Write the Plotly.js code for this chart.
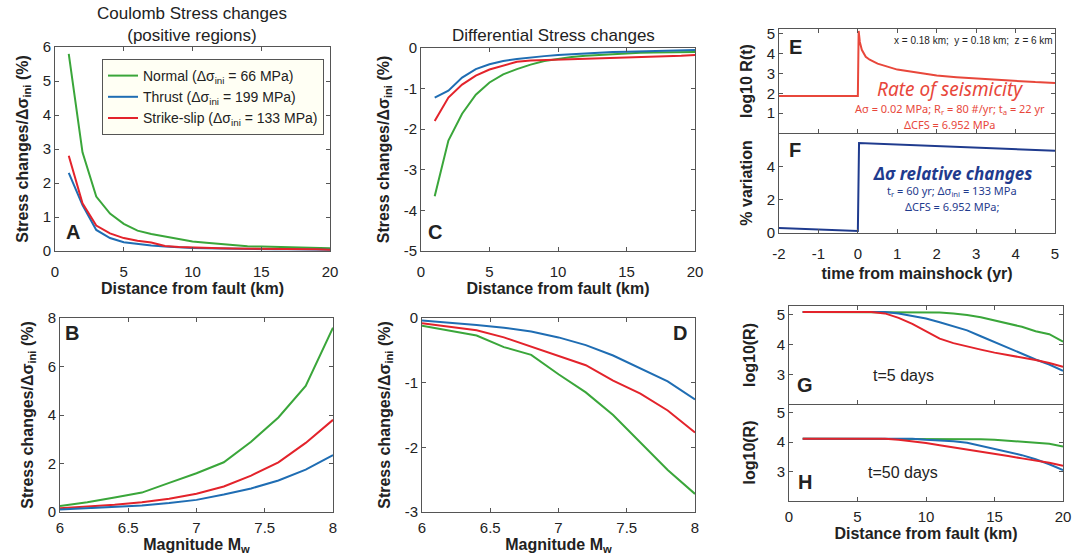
<!DOCTYPE html>
<html><head><meta charset="utf-8">
<script src="https://cdn.plot.ly/plotly-3.0.1.min.js"></script>
<style>body{margin:0;background:#fff}#c{width:1072px;height:560px}</style>
</head><body><div id="c"></div>
<script>
// ---- Panel A: Coulomb stress changes vs distance ----
const distKm = [1,2,3,4,5,6,7,8,9,10,11,12,13,14,15,16,17,18,19,20];
const A_normal = [5.8,2.9,1.6,1.1,0.8,0.6,0.5,0.42,0.34,0.28,0.24,0.2,0.17,0.14,0.13,0.12,0.11,0.1,0.09,0.08];
const A_thrust = [2.3,1.35,0.62,0.38,0.26,0.2,0.16,0.13,0.1,0.09,0.08,0.07,0.06,0.06,0.05,0.05,0.05,0.04,0.04,0.04];
const A_strike = [2.8,1.4,0.75,0.52,0.38,0.3,0.25,0.15,0.12,0.1,0.09,0.08,0.07,0.07,0.06,0.06,0.05,0.05,0.05,0.04];
// ---- Panel C: Differential stress changes vs distance ----
const C_normal = [-3.65,-2.28,-1.62,-1.15,-0.85,-0.65,-0.52,-0.41,-0.32,-0.27,-0.22,-0.19,-0.17,-0.15,-0.13,-0.12,-0.11,-0.11,-0.1,-0.1];
const C_thrust = [-1.22,-1.05,-0.73,-0.52,-0.4,-0.32,-0.27,-0.23,-0.2,-0.17,-0.15,-0.13,-0.11,-0.1,-0.09,-0.08,-0.07,-0.07,-0.06,-0.05];
const C_strike = [-1.8,-1.22,-0.9,-0.68,-0.53,-0.43,-0.34,-0.31,-0.3,-0.28,-0.27,-0.26,-0.25,-0.24,-0.23,-0.22,-0.21,-0.2,-0.19,-0.17];
// ---- Panels B, D: vs magnitude ----
const magMw = [6.0,6.2,6.4,6.6,6.8,7.0,7.2,7.4,7.6,7.8,8.0];
const B_normal = [0.25,0.4,0.6,0.8,1.2,1.6,2.05,2.9,3.9,5.2,7.6];
const B_thrust = [0.1,0.15,0.2,0.27,0.37,0.5,0.72,0.97,1.3,1.75,2.35];
const B_strike = [0.15,0.22,0.3,0.4,0.55,0.75,1.05,1.5,2.05,2.85,3.8];
const D_normal = [-0.12,-0.2,-0.27,-0.45,-0.57,-0.87,-1.15,-1.5,-1.93,-2.35,-2.72];
const D_thrust = [-0.04,-0.07,-0.11,-0.15,-0.21,-0.3,-0.42,-0.58,-0.78,-0.98,-1.26];
const D_strike = [-0.08,-0.13,-0.19,-0.3,-0.44,-0.58,-0.73,-0.97,-1.17,-1.43,-1.77];
// ---- Panel E: rate of seismicity ----
const E_time = [-2,0,0.02,0.05,0.1,0.2,0.3,0.5,0.75,1,1.5,2,2.5,3,3.5,4,4.5,5];
const E_log10R = [1.87,1.87,5.15,4.6,4.2,3.85,3.7,3.5,3.35,3.2,3.05,2.9,2.82,2.75,2.68,2.62,2.57,2.53];
// ---- Panel F: relative changes ----
const F_time = [-2,0,0.03,5];
const F_pct = [0.3,0.12,5.45,4.97];
// ---- Panels G, H: log10(R) vs distance ----
const G_normal = [5.1,5.1,5.1,5.1,5.1,5.1,5.1,5.1,5.1,5.1,5.08,5.05,5.0,4.92,4.82,4.7,4.6,4.45,4.35,4.1];
const G_thrust = [5.1,5.1,5.1,5.1,5.1,5.1,5.1,5.05,4.97,4.88,4.75,4.62,4.48,4.28,4.08,3.88,3.7,3.5,3.33,3.12];
const G_strike = [5.1,5.1,5.1,5.1,5.1,5.1,5.05,4.9,4.7,4.45,4.2,4.05,3.93,3.83,3.73,3.65,3.57,3.48,3.38,3.25];
const H_normal = [4.12,4.12,4.12,4.12,4.12,4.12,4.12,4.12,4.12,4.12,4.12,4.12,4.12,4.1,4.08,4.05,4.03,4.0,3.95,3.85];
const H_thrust = [4.12,4.12,4.12,4.12,4.12,4.12,4.12,4.12,4.12,4.08,4.06,4.03,3.98,3.88,3.78,3.67,3.56,3.42,3.25,3.05];
const H_strike = [4.12,4.12,4.12,4.12,4.12,4.12,4.12,4.08,4.03,3.97,3.9,3.83,3.76,3.68,3.6,3.53,3.45,3.38,3.3,3.2];

const legendNames = ['Normal (Δσ<sub>ini</sub> = 66 MPa)','Thrust (Δσ<sub>ini</sub> = 199 MPa)','Strike-slip (Δσ<sub>ini</sub> = 133 MPa)'];

const GREEN='#3aa63a', BLUE='#1f6db3', RED='#e3232b';
const ERED='#e8473b', FBLUE='#1f3b8e';
const W=1072,H=560;
const FONT='"Liberation Sans", Arial, Helvetica, sans-serif';
const RFONT='"Noto Sans", "DejaVu Sans", sans-serif';

function tr(x,y,color,ax,name,show){
  return {x:x,y:y,type:'scatter',mode:'lines',line:{color:color,width:2},
    xaxis:'x'+ax, yaxis:'y'+ax, name:name||'', showlegend:!!show, hoverinfo:'skip'};
}
const data=[
  tr(distKm,A_normal,GREEN,'',legendNames[0],true),
  tr(distKm,A_thrust,BLUE,'',legendNames[1],true),
  tr(distKm,A_strike,RED,'',legendNames[2],true),
  tr(distKm,C_normal,GREEN,'2'),tr(distKm,C_strike,RED,'2'),tr(distKm,C_thrust,BLUE,'2'),
  tr(E_time,E_log10R,ERED,'3'),
  tr(F_time,F_pct,FBLUE,'4'),
  tr(magMw,B_normal,GREEN,'5'),tr(magMw,B_strike,RED,'5'),tr(magMw,B_thrust,BLUE,'5'),
  tr(magMw,D_normal,GREEN,'6'),tr(magMw,D_strike,RED,'6'),tr(magMw,D_thrust,BLUE,'6'),
  tr(distKm,G_normal,GREEN,'7'),tr(distKm,G_thrust,BLUE,'7'),tr(distKm,G_strike,RED,'7'),
  tr(distKm,H_normal,GREEN,'8'),tr(distKm,H_thrust,BLUE,'8'),tr(distKm,H_strike,RED,'8')
];

function dx(a,b){return [a/W,b/W];}
function dy(top,bot){return [1-bot/H,1-top/H];}
function ax(o){
  return Object.assign({showline:true,mirror:'ticks',ticks:'inside',ticklen:4,linecolor:'#555',tickcolor:'#555',
    linewidth:1,zeroline:false,showgrid:false,fixedrange:true,
    tickfont:{size:15,color:'#222',family:FONT}},o);
}
function xa(o){return ax(Object.assign({ticklabelstandoff:7},o));}
function tv(vals){return {tickvals:vals,ticktext:vals.map(v=>String(v))};}
function ttl(t,st){return {text:'<b>'+t+'</b>',font:{size:16,color:'#222',family:FONT},standoff:st};}
const stressT='Stress changes/Δσ<sub>ini</sub> (%)';

const layout={
  width:W,height:H,margin:{l:0,r:0,t:0,b:0},paper_bgcolor:'#fff',plot_bgcolor:'#fff',
  font:{family:FONT,color:'#222'},
  showlegend:true,
  legend:{x:102/W,y:1-59/H,xanchor:'left',yanchor:'top',bgcolor:'#fffff4',bordercolor:'#555',borderwidth:1,
    font:{size:14,color:'#222',family:FONT},tracegroupgap:0,itemwidth:30},
  xaxis:xa(Object.assign({domain:dx(55,330),range:[0,20],anchor:'y',title:ttl('Distance from fault (km)',2)},tv([0,5,10,15,20]))),
  yaxis:ax(Object.assign({domain:dy(47,251),range:[0,6],anchor:'x',title:ttl(stressT,10)},tv([0,1,2,3,4,5,6]))),
  xaxis2:xa(Object.assign({domain:dx(421,695),range:[0,20],anchor:'y2',title:ttl('Distance from fault (km)',2)},tv([0,5,10,15,20]))),
  yaxis2:ax(Object.assign({domain:dy(48,251),range:[-5,0],anchor:'x2',title:ttl(stressT,10)},tv([-5,-4,-3,-2,-1,0]))),
  xaxis3:xa(Object.assign({domain:dx(779,1055),range:[-2,5],showticklabels:false,anchor:'y3'},tv([-2,-1,0,1,2,3,4,5]))),
  yaxis3:ax(Object.assign({domain:dy(29,133),range:[0,5.25],anchor:'x3',title:ttl('log10 R(t)',10)},tv([1,2,3,4,5]))),
  xaxis4:xa(Object.assign({domain:dx(779,1055),range:[-2,5],anchor:'y4',mirror:false,title:ttl('time from mainshock (yr)',6)},tv([-2,-1,0,1,2,3,4,5]))),
  yaxis4:ax(Object.assign({domain:dy(133,233),range:[0,6.05],anchor:'x4',title:ttl('% variation',10)},tv([0,2,4]))),
  xaxis5:ax(Object.assign({domain:dx(60,333),range:[6,8],anchor:'y5',ticklabelstandoff:2,title:ttl('Magnitude M<sub>w</sub>',2)},tv([6,6.5,7,7.5,8]))),
  yaxis5:ax(Object.assign({domain:dy(318,512),range:[0,8],anchor:'x5',title:ttl(stressT,10)},tv([0,2,4,6,8]))),
  xaxis6:ax(Object.assign({domain:dx(422,695),range:[6,8],anchor:'y6',ticklabelstandoff:2,title:ttl('Magnitude M<sub>w</sub>',2)},tv([6,6.5,7,7.5,8]))),
  yaxis6:ax(Object.assign({domain:dy(318,512),range:[-3,0],anchor:'x6',title:ttl(stressT,10)},tv([-3,-2,-1,0]))),
  xaxis7:ax(Object.assign({domain:dx(789,1063),range:[0,20],showticklabels:false,anchor:'y7'},tv([0,5,10,15,20]))),
  yaxis7:ax(Object.assign({domain:dy(306,404),range:[2,5.3],anchor:'x7',title:ttl('log10(R)',17)},tv([3,4,5]))),
  xaxis8:ax(Object.assign({domain:dx(789,1063),range:[0,20],anchor:'y8',mirror:false,ticklabelstandoff:2,title:ttl('Distance from fault (km)',3)},tv([0,5,10,15,20]))),
  yaxis8:ax(Object.assign({domain:dy(404,501),range:[2,5.3],anchor:'x8',title:ttl('log10(R)',17)},tv([3,4,5]))),
  annotations:[]
};
function ann(text,x,y,size,opts){
  return Object.assign({xref:'paper',yref:'paper',x:x/W,y:1-y/H,text:text,showarrow:false,xanchor:'center',yanchor:'middle',
    font:{size:size,color:'#222',family:FONT}},opts||{});
}
const A=layout.annotations;
A.push(ann('Coulomb Stress changes<br>(positive regions)',192,25,17));
A.push(ann('Differential Stress changes',553,35,17));
const bold=(s)=>'<b>'+s+'</b>';
A.push(ann(bold('A'),73,232,20));
A.push(ann(bold('C'),435,232,20));
A.push(ann(bold('B'),72,333,20));
A.push(ann(bold('D'),680,333,20));
A.push(ann(bold('E'),795,47,20));
A.push(ann(bold('F'),795,150,20));
A.push(ann(bold('G'),805,385,20));
A.push(ann(bold('H'),805,482,20));
A.push(ann('t=5 days',903,375,16));
A.push(ann('t=50 days',903,472,16));
A.push(ann('x = 0.18 km;  y = 0.18 km;  z = 6 km',973,41,10));
A.push(ann('Rate of seismicity',950,89,19,{font:{size:19,color:ERED,family:RFONT,style:'italic'}}));
A.push(ann('Aσ = 0.02 MPa; R<sub>r</sub> = 80 #/yr; t<sub>a</sub> = 22 yr',950,109,11,{font:{size:11,color:ERED,family:RFONT}}));
A.push(ann('ΔCFS = 6.952 MPa',950,124,11,{font:{size:11,color:ERED,family:RFONT}}));
A.push(ann('<b>Δσ relative changes</b>',952,173,17,{font:{size:17,color:FBLUE,family:RFONT,style:'italic'}}));
A.push(ann('t<sub>r</sub> = 60 yr; Δσ<sub>ini</sub> = 133 MPa',952,191,11,{font:{size:11,color:FBLUE,family:RFONT}}));
A.push(ann('ΔCFS = 6.952 MPa;',952,206,11,{font:{size:11,color:FBLUE,family:RFONT}}));

Plotly.newPlot('c',data,layout,{staticPlot:true,displayModeBar:false});
</script></body></html>
